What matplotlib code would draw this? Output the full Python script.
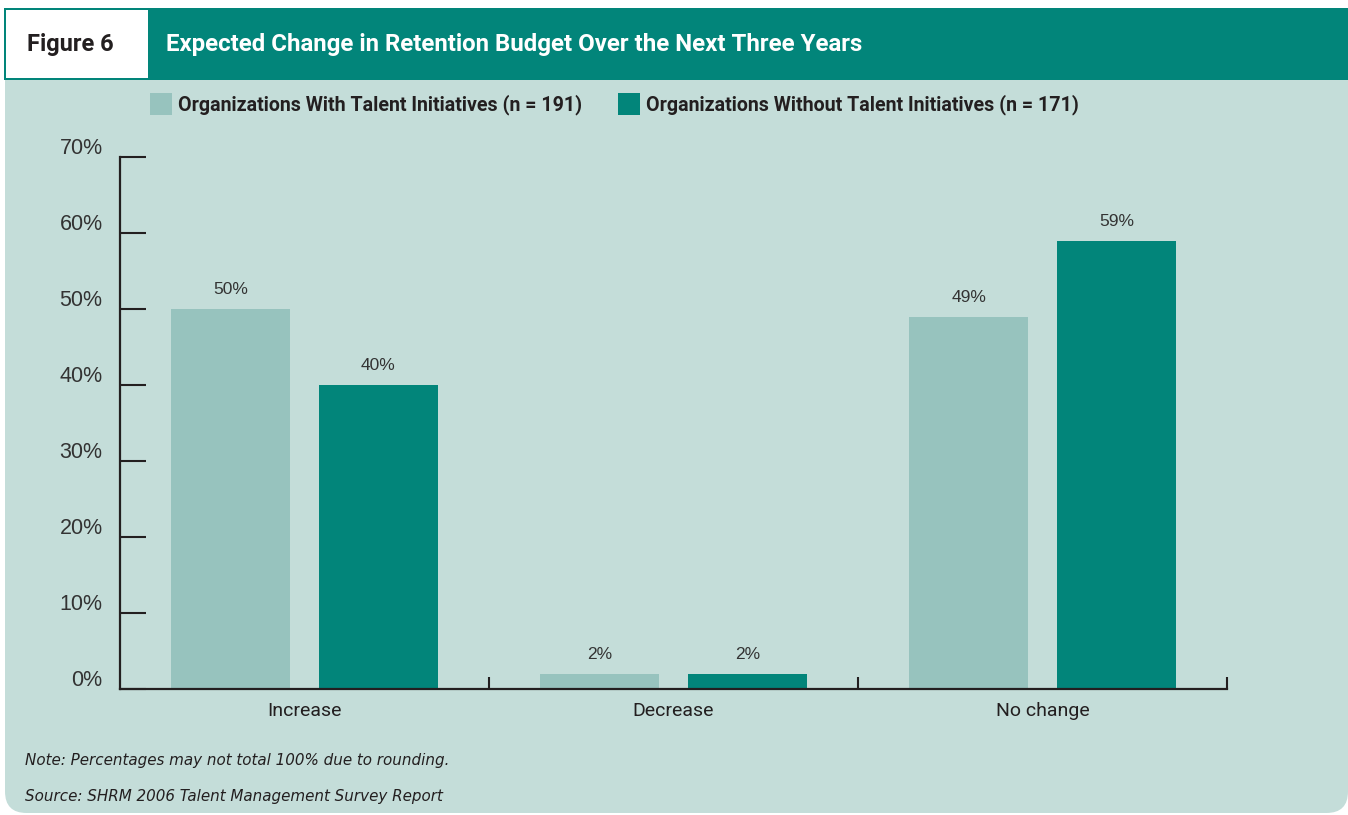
import matplotlib
matplotlib.use("Agg")
import matplotlib.pyplot as plt
import matplotlib.transforms as mtransforms
from matplotlib.patches import Rectangle, FancyBboxPatch
import numpy as np

## DATA

CATEGORIES = ["Increase", "Decrease", "No change"]
WITH_TALENT = [50, 2, 49]
WITHOUT_TALENT = [40, 2, 59]
SERIES_NAMES = ["Organizations With Talent Initiatives (n = 191)",
                "Organizations Without Talent Initiatives (n = 171)"]
Y_TICKS = [0, 10, 20, 30, 40, 50, 60, 70]

TITLE = "Expected Change in Retention Budget Over the Next Three Years"
FIG_LABEL = "Figure 6"
NOTE = "Note: Percentages may not total 100% due to rounding."
SOURCE = "Source: SHRM 2006 Talent Management Survey Report"

## STYLE

W, H = 1348, 815
TEAL = "#02857A"
LIGHT_BAR = "#97C3BE"
PANEL = "#C4DDD9"
INK = "#231F20"
TEXT = "#333333"

# no condensed family installed, Roboto is the tightest one around
COND = dict(family=["Roboto", "DejaVu Sans"])
ARIAL = dict(family=["Liberation Sans", "DejaVu Sans"])


def fx(px):
	return px / W


def fy(py):
	return 1 - py / H


fig = plt.figure(figsize=(W / 100, H / 100), dpi=100)
fig.patch.set_facecolor("white")

# light panel with rounded bottom corners, header band laid over the top
panel = FancyBboxPatch((fx(5), fy(813)), fx(1348) - fx(5), fy(60) - fy(813),
                       boxstyle="round,pad=0,rounding_size=0.016",
                       transform=fig.transFigure, facecolor=PANEL, edgecolor="none",
                       mutation_aspect=W / H, zorder=0)
fig.patches.append(panel)
fig.patches.append(Rectangle((fx(4), fy(80)), fx(1348) - fx(4), fy(8) - fy(80),
                             transform=fig.transFigure, facecolor=TEAL, edgecolor="none", zorder=0))
fig.patches.append(Rectangle((fx(6), fy(78)), fx(148) - fx(6), fy(10) - fy(78),
                             transform=fig.transFigure, facecolor="white", edgecolor="none", zorder=0))

fig.text(fx(27), fy(44), FIG_LABEL, color=INK, fontsize=17, fontweight="bold",
         va="center", ha="left", **COND)
fig.text(fx(166), fy(44), TITLE, color="white", fontsize=17.3, fontweight="bold",
         va="center", ha="left", **COND)

# legend, drawn by hand as two squares and labels
leg_x = [150, 618]
for x0, col, name in zip(leg_x, [LIGHT_BAR, TEAL], SERIES_NAMES):
	fig.patches.append(Rectangle((fx(x0), fy(115)), fx(22), fy(93) - fy(115),
	                             transform=fig.transFigure, facecolor=col, edgecolor="none", zorder=0))
	fig.text(fx(x0 + 28), fy(105), name, color=INK, fontsize=14.1, fontweight="bold",
	         va="center", ha="left", **COND)

## AXES

ax = fig.add_axes([fx(120), fy(689), fx(1227) - fx(120), fy(157) - fy(689)])
ax.set_zorder(2)
ax.set_facecolor("none")

x = np.arange(len(CATEGORIES))
bar_w = 0.323
off = 0.2
b1 = ax.bar(x - off, WITH_TALENT, bar_w, color=LIGHT_BAR, zorder=2)
b2 = ax.bar(x + off, WITHOUT_TALENT, bar_w, color=TEAL, zorder=2)

for bars, vals in [(b1, WITH_TALENT), (b2, WITHOUT_TALENT)]:
	for b, v in zip(bars, vals):
		ax.annotate(f"{v}%", (b.get_x() + b.get_width() / 2, v), xytext=(0, 10.5),
		            textcoords="offset points", ha="center", va="baseline",
		            fontsize=12.5, color=TEXT, **ARIAL)

ax.set_xlim(-0.5, len(CATEGORIES) - 0.5)
ax.set_ylim(0, 70)

for side in ["top", "right"]:
	ax.spines[side].set_visible(False)
for side in ["left", "bottom"]:
	ax.spines[side].set_linewidth(1.6)
	ax.spines[side].set_color(INK)

ax.set_yticks(Y_TICKS)
ax.set_yticklabels([f"{t}%" for t in Y_TICKS], fontsize=15.5, color=TEXT, **ARIAL)
ax.tick_params(axis="y", direction="in", length=19, width=1.5, color=INK, pad=12.5)
# percent labels sit just above their tick line
lift = mtransforms.ScaledTranslation(0, 2 / 72, fig.dpi_scale_trans)
for lab in ax.get_yticklabels():
	lab.set_verticalalignment("baseline")
	lab.set_transform(lab.get_transform() + lift)

# ticks between categories, labels under the category centres
ax.set_xticks(x + 0.5)
ax.set_xticklabels([])
ax.tick_params(axis="x", which="major", direction="in", length=9, width=1.5, color=INK)
ax.set_xticks(x, minor=True)
ax.set_xticklabels(CATEGORIES, minor=True, fontsize=14, color=INK, **COND)
ax.tick_params(axis="x", which="minor", length=0, pad=9)

## FOOTNOTES

fig.text(fx(25), fy(761), NOTE, fontsize=10.9, style="italic", color=INK,
         va="center", ha="left", family="DejaVu Sans")
fig.text(fx(25), fy(796), SOURCE, fontsize=10.9, style="italic", color=INK,
         va="center", ha="left", family="DejaVu Sans")

fig.savefig("out.png", dpi=100, facecolor=fig.get_facecolor())
